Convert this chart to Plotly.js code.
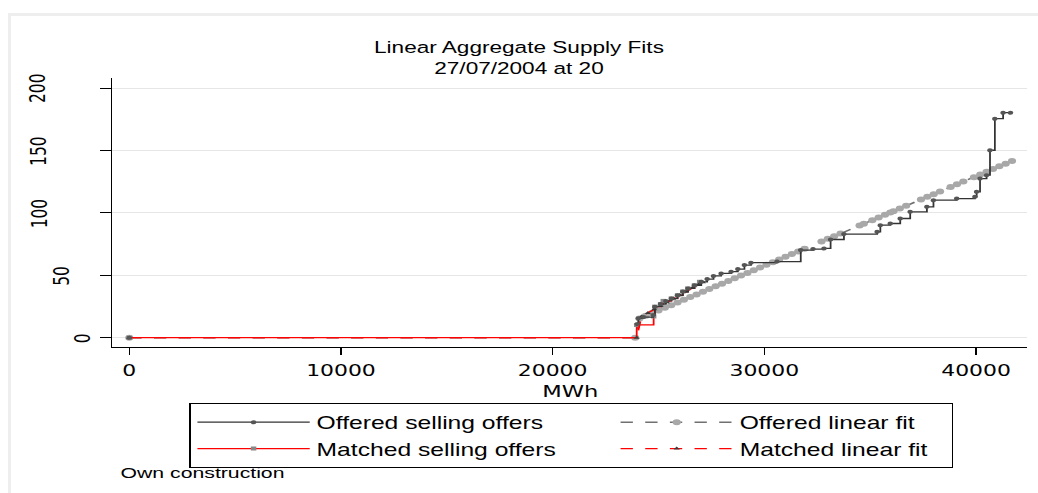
<!DOCTYPE html>
<html><head><meta charset="utf-8">
<script src="https://cdn.plot.ly/plotly-3.0.1.min.js"></script>
<style>
html,body{margin:0;padding:0;background:#fff;overflow:hidden;width:1038px;height:493px;}
#frame{position:absolute;left:8px;top:13px;width:1100px;height:600px;border-left:3px solid #eeeeee;border-top:3px solid #eeeeee;box-sizing:border-box;z-index:0;}
#chart{position:absolute;left:0;top:0;width:758px;height:493px;transform:scaleX(1.369393);transform-origin:0 0;z-index:1;}
</style></head><body>
<div id="frame"></div><div id="chart"></div>
<script>
// ---- data ----
var offeredX = [0, null, 24000, 24050, 24300, 24750, 24830, 25100, 25350, 25610, 25900, 26150, 26400, 26700, 27020, 27300, 27600, 27960, 28430, 28750, 29060, 29370, 30600, 31720, 32300, 32820, 33130, 33760, 35330, 35480, 35950, 36420, 36890, 37680, 37990, 39090, 39950, 40030, 40190, 40500, 40660, 40890, 41280, 41630];
var offeredY = [0, null, 11, 15.5, 16.5, 18.2, 24.9, 27, 29.5, 31.5, 34, 37, 39.5, 42, 44.8, 47, 49.5, 51.5, 52.9, 55, 58.2, 60.1, 61, 70.2, 71, 71.5, 78.7, 83, 84.9, 90.2, 91.5, 95.5, 100.9, 104.9, 110.2, 111.5, 112.9, 116.9, 127.5, 130.2, 150.2, 175.5, 180.3, 180.3];

var offeredFitX = [0, 23900, 24100, 24400, 24700, 25000, 25300, 25600, 25900, 26200, 26500, 26800, 27100, 27400, 27700, 28000, 28300, 28600, 28900, 29200, 29500, 29800, 30100, 30400, 30700, 31000, 31300, 31600, 31900, 32700, 33000, 33300, 33600, 34500, 34700, 35100, 35400, 35700, 35950, 36100, 36400, 36700, 37400, 37700, 38000, 38300, 38800, 39100, 39400, 39900, 40200, 40500, 40800, 41100, 41400, 41700];
var offeredFitY = [0, 0, 15.4, 17.5, 19.7, 21.8, 24.0, 26.1, 28.3, 30.4, 32.6, 34.7, 36.9, 39.0, 41.2, 43.3, 45.5, 47.6, 49.8, 51.9, 54.1, 56.2, 58.4, 60.5, 62.7, 64.8, 67.0, 69.1, 71.3, 77.0, 79.2, 81.3, 83.5, 89.9, 91.4, 94.2, 96.4, 98.5, 100.3, 101.4, 103.5, 105.7, 110.7, 112.9, 115.0, 117.2, 120.8, 122.9, 125.1, 128.6, 130.8, 133.0, 135.1, 137.3, 139.4, 141.6];

var matchedX = [0, 23970, 24770, 24830, 25100, 25225, 25610, 25900, 26150, 26380, 26700, 26945];
var matchedY = [0, 10.2, 17, 24.9, 27, 29.5, 31.5, 34, 37, 39.5, 42, 44.8];

var matchedFitX = [0, 23970, 24200, 24500, 24800, 25100, 25400, 25700, 26000, 26300, 26600, 26900, 27100];
var matchedFitY = [0, 0, 17.0, 19.8, 22.7, 25.5, 28.4, 31.2, 34.1, 36.9, 39.8, 42.6, 44.5];

var seriesNames = ['Offered selling offers', 'Offered linear fit', 'Matched selling offers', 'Matched linear fit'];
var xTickVals = [0, 10000, 20000, 30000, 40000];
var xTickText = ['0', '10000', '20000', '30000', '40000'];
var yTickVals = [0, 50, 100, 150, 200];
var yTickText = ['0', '50', '100', '150', '200'];
var titleLines = ['Linear Aggregate Supply Fits', '27/07/2004 at 20'];
var xAxisTitle = 'MWh';
var noteText = 'Own construction';

// ---- layout settings ----
var yLabelPaperX = [-0.0323, -0.0547, -0.0787, -0.0803, -0.0809];
var SANS = 'Liberation Sans, Arial, sans-serif';
var DEJ = 'DejaVu Sans, sans-serif';

var offeredSelling = {x: offeredX, y: offeredY, name: seriesNames[0], type: 'scatter', mode: 'lines+markers',
   line: {shape: 'hv', color: '#333333', width: 1.3}, marker: {color: '#555555', size: 4},
   legendrank: 1, legendwidth: 212};
var offeredFit = {x: offeredFitX, y: offeredFitY, name: seriesNames[1], type: 'scatter', mode: 'lines+markers',
   line: {color: '#707070', width: 1.5, dash: 'dash'}, marker: {color: '#a8a8a8', size: 6},
   legendrank: 2, legendwidth: 150};
var matchedSelling = {x: matchedX, y: matchedY, name: seriesNames[2], type: 'scatter', mode: 'lines+markers',
   line: {shape: 'hv', color: '#ff0000', width: 1.3}, marker: {color: '#888888', size: 4, symbol: 'square'},
   legendrank: 3, legendwidth: 212};
var matchedFit = {x: matchedFitX, y: matchedFitY, name: seriesNames[3], type: 'scatter', mode: 'lines+markers',
   line: {color: '#ff0000', width: 1.3, dash: 'dash'}, marker: {color: '#3a3a3a', size: 4, symbol: 'triangle-up'},
   legendrank: 4, legendwidth: 150};

var traces = [offeredFit, matchedSelling, matchedFit, offeredSelling];

var annotations = yTickVals.map(function (v, i) {
  return {xref: 'paper', yref: 'y', x: yLabelPaperX[i], y: v, text: yTickText[i], showarrow: false,
          textangle: -90, xanchor: 'center', yanchor: 'middle', font: {family: DEJ, size: 15.5, color: '#000'}};
});
annotations.push({xref: 'paper', yref: 'paper', x: 0.5, y: -0.1636, xanchor: 'center', yanchor: 'middle',
  text: xAxisTitle, showarrow: false, font: {family: DEJ, size: 16.5, color: '#000'}});
annotations.push({xref: 'paper', yref: 'paper', x: 0.0054, y: -0.4684, xanchor: 'left', yanchor: 'middle',
  text: noteText, showarrow: false, font: {family: SANS, size: 15.5, color: '#000'}});

var layout = {
  width: 758, height: 493,
  margin: {l: 81.8, r: 8, t: 78, b: 146, pad: 0, autoexpand: false},
  paper_bgcolor: 'rgba(0,0,0,0)', plot_bgcolor: 'rgba(0,0,0,0)',
  font: {family: SANS, color: '#000'},
  title: {text: titleLines.join('<br>'), x: 0.5, xref: 'container', xanchor: 'center',
          y: 1 - 53 / 493, yref: 'container', yanchor: 'middle', font: {family: SANS, size: 16.5, color: '#000'}},
  xaxis: {range: [-803, 42410], tickvals: xTickVals, ticktext: xTickText, ticks: 'outside', ticklen: 7, tickwidth: 1, tickcolor: '#000',
          showline: true, linecolor: '#000', linewidth: 1, showgrid: false, zeroline: false, automargin: false,
          tickfont: {family: DEJ, size: 16, color: '#000'}, ticklabelstandoff: 2},
  yaxis: {range: [-7.45, 208.1], tickvals: yTickVals, showticklabels: false, ticks: 'outside', ticklen: 8, tickwidth: 1,
          tickcolor: '#000', showline: true, linecolor: '#000', linewidth: 1, showgrid: true, gridcolor: '#e6e6e6',
          gridwidth: 1, zeroline: false, automargin: false},
  showlegend: true,
  legend: {orientation: 'h', x: 0.0841, xanchor: 'left', y: -0.208, yanchor: 'top', bgcolor: '#ffffff',
           bordercolor: '#000', borderwidth: 1, font: {family: SANS, size: 18, color: '#000'},
           itemwidth: 82, traceorder: 'normal', tracegroupgap: 0},
  annotations: annotations
};

Plotly.newPlot('chart', traces, layout, {staticPlot: true, displayModeBar: false});
</script></body></html>
